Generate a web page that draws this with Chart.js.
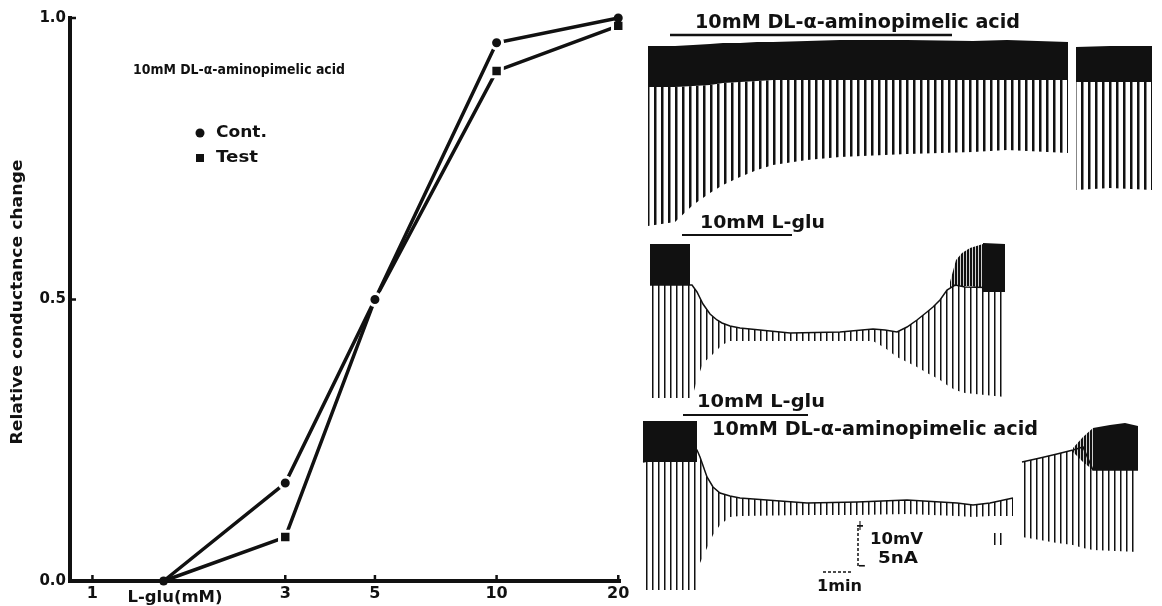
<!DOCTYPE html>
<html>
<head>
<meta charset="utf-8">
<script src="https://cdn.jsdelivr.net/npm/chart.js@4.4.1/dist/chart.umd.min.js"></script>
<style>
  body { margin: 0; background: #fff; }
  #wrap { position: relative; width: 1162px; height: 606px; }
  canvas { position: absolute; top: 0; }
  #doseChart { left: 0; }
  #traceChart { left: 640px; }
</style>
</head>
<body>
<div id="wrap">
  <canvas id="doseChart" width="640" height="606"></canvas>
  <canvas id="traceChart" width="522" height="606"></canvas>
</div>
<script>
// ---- dose-response curve (left) ----
const concentrations = [1.5, 3, 5, 10, 20];          // L-glu, mM
const contValues = [0, 0.174, 0.5, 0.956, 1.0];
const testValues = [0, 0.078, 0.5, 0.906, 0.986];
const xTickValues = [1, 3, 5, 10, 20];
const xTickLabels = ['1', '3', '5', '10', '20'];
const yTickValues = [0, 0.5, 1.0];

// ---- recordings (right): time in s, potential in mV (offset per trace) ----
// trace 1: DL-alpha-aminopimelic acid alone
const t1Time = [16, 70, 106, 140, 166, 200, 234, 266, 334, 400, 534, 666, 734, 856];
const t1SpikeTop = [-11.5, -11.5, -11.25, -11, -10.75, -10.75, -10.5, -10.5, -10.25, -10, -10, -10.25, -10, -10.5];
const t1SpikeBase = [-21.75, -21.75, -21.5, -21.25, -20.75, -20.5, -20.25, -20, -20, -20, -20, -20, -20, -20];
const t1PulseTip = [-56.5, -55.5, -51.25, -48.25, -46.25, -44.25, -42.5, -41.25, -40, -39.25, -38.5, -38, -37.5, -38.25];
const t1bTime = [872, 940, 1024];
const t1bSpikeTop = [-11.75, -11.5, -11.5];
const t1bSpikeBase = [-20.5, -20.5, -20.5];
const t1bPulseTip = [-47.5, -47, -47.5];

// trace 2: L-glu alone
const t2BlockTime = [20, 100];
const t2BlockTop = [-61, -61];
const t2BlockBase = [-71.25, -71.25];
const t2Time = [20, 104, 114, 126, 140, 154, 164, 180, 200, 300, 400, 466, 490, 514, 534, 554, 574, 586, 600, 614, 630, 650, 730];
const t2Membrane = [-71.25, -71.25, -73, -76, -78.5, -80, -80.75, -81.5, -82, -83.25, -83, -82.25, -82.5, -83, -81.75, -80, -78, -76.75, -75, -72.5, -71.25, -71.75, -72];
const t2PulseTip = [-99.5, -99.5, -95, -90.75, -89.25, -87.5, -86.25, -85.25, -85.25, -85.25, -85.25, -85.25, -87, -89.25, -90.5, -91.75, -93.25, -94, -95, -96.25, -97.5, -98.25, -99.25];
const t2SpikeTime = [620, 632, 644, 660, 686];
const t2SpikeTop = [-70.5, -65, -63.25, -62, -61];
const t2SpikeBase = [-72, -71.5, -71.5, -71.5, -72];
const t2EndTime = [686, 730];
const t2EndTop = [-60.75, -61];
const t2EndBase = [-73, -73];

// trace 3: L-glu with DL-alpha-aminopimelic acid
const t3BlockTime = [6, 114];
const t3BlockTop = [-105.25, -105.25];
const t3BlockBase = [-115.5, -115.5];
const t3Time = [6, 114, 120, 134, 146, 160, 180, 200, 334, 434, 534, 634, 666, 700, 746];
const t3Membrane = [-115.5, -112.5, -114.25, -119.25, -121.75, -123.25, -124, -124.5, -125.75, -125.5, -125, -125.75, -126.25, -125.75, -124.5];
const t3PulseTip = [-147.5, -147.5, -140.75, -137, -133.75, -131.25, -129.25, -129, -128.75, -128.75, -128.5, -129, -129.25, -129, -129];
const t3StrayTime = [700, 726];
const t3StrayTop = [-133.25, -133.25];
const t3StrayBase = [-136.25, -136.25];
const t3bTime = [764, 800, 834, 866, 886, 906, 996];
const t3bMembrane = [-115.5, -114.5, -113.5, -112.5, -111.75, -117.5, -117.5];
const t3bPulseTip = [-134.25, -135, -135.75, -136.25, -137, -137.5, -138];
const t3bSpikeTime = [866, 886, 906];
const t3bSpikeTop = [-112, -109.25, -107];
const t3bSpikeBase = [-113, -115.5, -117.5];
const t3bEndTime = [906, 940, 970, 996];
const t3bEndTop = [-107, -106.25, -105.75, -106.5];
const t3bEndBase = [-117.5, -117.5, -117.5, -117.5];

// drug application bars [start, end] and level
const aminoBar1 = [60, 624], aminoBar1Level = -8.75;
const gluBar2 = [84, 304], gluBar2Level = -58.75;
const gluBar3 = [86, 336], gluBar3Level = -103.75;
// calibration: 10 mV and 1 min
const mvBarTime = 436, mvBar = [-132, -142];
const minBar = [366, 426], minBarLevel = -143;

const ink = '#111';
Chart.defaults.font.family = "'DejaVu Sans', sans-serif";
Chart.defaults.color = '#000';

function pts(xs, ys) {
    return xs.map((x, i) => ({ x: x, y: ys[i] }));
}

// draw text squeezed/stretched to a given width
function fitText(ctx, text, cx, cy, width, size, rotate) {
    ctx.save();
    ctx.font = 'bold ' + size + "px 'DejaVu Sans'";
    const w = ctx.measureText(text).width;
    ctx.translate(cx, cy);
    if (rotate) ctx.rotate(-Math.PI / 2);
    ctx.scale(width / w, 1);
    ctx.textAlign = 'center';
    ctx.textBaseline = 'middle';
    ctx.fillStyle = ink;
    ctx.fillText(text, 0, 0);
    ctx.restore();
}


const doseDecor = {
    id: 'doseDecor',
    afterDraw(chart) {
        const { ctx, chartArea, scales } = chart;
        ctx.save();
        ctx.strokeStyle = ink;
        ctx.lineWidth = 2.5;
        ctx.beginPath();
        xTickValues.forEach(v => {
            const px = scales.x.getPixelForValue(v);
            ctx.moveTo(px, chartArea.bottom);
            ctx.lineTo(px, chartArea.bottom - 6);
        });
        yTickValues.slice(1).forEach(v => {
            const py = scales.y.getPixelForValue(v);
            ctx.moveTo(chartArea.left, py);
            ctx.lineTo(chartArea.left + 6, py);
        });
        ctx.stroke();

        // legend
        ctx.fillStyle = ink;
        ctx.beginPath();
        ctx.arc(200, 133, 4.5, 0, Math.PI * 2);
        ctx.fill();
        ctx.fillRect(196, 154, 8, 8);
        ctx.restore();

        fitText(ctx, 'Cont.', 241.5, 133, 51, 16);
        fitText(ctx, 'Test', 237, 158, 42, 16);
        fitText(ctx, '10mM DL-\u03b1-aminopimelic acid', 239, 70, 212, 14);
        fitText(ctx, 'L-glu(mM)', scales.x.getPixelForValue(1.6), 598, 95, 16);
        fitText(ctx, 'Relative conductance change', 18, 302, 285, 15, true);
    }
};

// white ring round inner markers leaves the small gap seen between line and marker
const lastIdx = concentrations.length - 1;

new Chart(document.getElementById('doseChart'), {
    type: 'line',
    data: {
        datasets: [
            {
                label: 'Cont.',
                data: pts(concentrations, contValues),
                borderColor: ink,
                backgroundColor: ink,
                borderWidth: 3.5,
                pointStyle: 'circle',
                pointRadius: c => (c.dataIndex === 0 || c.dataIndex === lastIdx) ? 4.5 : 6,
                pointBorderWidth: c => (c.dataIndex === 0 || c.dataIndex === lastIdx) ? 0 : 3,
                pointBorderColor: '#fff',
                pointBackgroundColor: ink,
                clip: false
            },
            {
                label: 'Test',
                data: pts(concentrations, testValues),
                borderColor: ink,
                backgroundColor: ink,
                borderWidth: 3.5,
                pointStyle: 'rect',
                pointRadius: c => c.dataIndex === 0 ? 4.5 : 8.1,
                pointBorderWidth: c => c.dataIndex === 0 ? 0 : 3,
                pointBorderColor: '#fff',
                pointBackgroundColor: ink,
                clip: false
            }
        ]
    },
    options: {
        responsive: false,
        animation: false,
        layout: { padding: { top: 18, right: 20, left: 0, bottom: 0 } },
        plugins: { legend: { display: false }, tooltip: { enabled: false } },
        scales: {
            x: {
                type: 'logarithmic',
                min: 0.88,
                max: 20.2,
                afterBuildTicks: s => { s.ticks = xTickValues.map(v => ({ value: v })); },
                afterFit: s => { s.height = 25; },
                grid: { display: false, drawTicks: false },
                border: { display: true, width: 4, color: ink },
                ticks: {
                    autoSkip: false,
                    maxRotation: 0,
                    padding: 3,
                    font: { size: 16, weight: 'bold' },
                    color: ink,
                    callback: v => xTickLabels[xTickValues.indexOf(v)]
                }
            },
            y: {
                min: 0,
                max: 1,
                afterBuildTicks: s => { s.ticks = yTickValues.map(v => ({ value: v })); },
                afterFit: s => { s.width = 70; },
                grid: { display: false, drawTicks: false },
                border: { display: true, width: 4, color: ink },
                ticks: {
                    padding: 4,
                    font: { size: 15, weight: 'bold' },
                    color: ink,
                    callback: v => v.toFixed(1)
                }
            }
        }
    },
    plugins: [doseDecor]
});


// ---- recordings ----
const traceCanvas = document.getElementById('traceChart');
const traceCtx = traceCanvas.getContext('2d');

function stripes(period, width) {
    const c = document.createElement('canvas');
    c.width = period;
    c.height = 2;
    const g = c.getContext('2d');
    g.fillStyle = ink;
    g.fillRect(0, 0, width, 2);
    return traceCtx.createPattern(c, 'repeat');
}

const wideComb = stripes(7, 2.5);
const fineComb = stripes(6, 1.5);
const spikeComb = stripes(3, 2.2);

// two boundaries, the second filled up to the first
function band(xs, upper, lower, fillStyle, order, edge) {
    return [
        { data: pts(xs, upper), borderColor: ink, borderWidth: edge || 0, pointRadius: 0, fill: false, order: order },
        { data: pts(xs, lower), borderWidth: 0, pointRadius: 0, fill: '-1', backgroundColor: fillStyle, order: order }
    ];
}

function hLine(range, level, width, dash) {
    return {
        data: pts(range, [level, level]),
        borderColor: ink, borderWidth: width, borderDash: dash || [],
        pointRadius: 0, fill: false, order: 1
    };
}

const traceSets = [].concat(
    band(t1Time, t1SpikeBase, t1PulseTip, wideComb, 3),
    band(t1Time, t1SpikeTop, t1SpikeBase, ink, 2),
    band(t1bTime, t1bSpikeBase, t1bPulseTip, wideComb, 3),
    band(t1bTime, t1bSpikeTop, t1bSpikeBase, ink, 2),

    band(t2Time, t2Membrane, t2PulseTip, fineComb, 3, 1.5),
    band(t2BlockTime, t2BlockTop, t2BlockBase, ink, 2),
    band(t2SpikeTime, t2SpikeTop, t2SpikeBase, spikeComb, 2),
    band(t2EndTime, t2EndTop, t2EndBase, ink, 2),

    band(t3Time, t3Membrane, t3PulseTip, fineComb, 3, 1.5),
    band(t3StrayTime, t3StrayTop, t3StrayBase, fineComb, 3),
    band(t3BlockTime, t3BlockTop, t3BlockBase, ink, 2),
    band(t3bTime, t3bMembrane, t3bPulseTip, fineComb, 3, 1.5),
    band(t3bSpikeTime, t3bSpikeTop, t3bSpikeBase, spikeComb, 2),
    band(t3bEndTime, t3bEndTop, t3bEndBase, ink, 2),

    [
        hLine(aminoBar1, aminoBar1Level, 2.5),
        hLine(gluBar2, gluBar2Level, 2),
        hLine(gluBar3, gluBar3Level, 2),
        hLine(minBar, minBarLevel, 1.5, [3, 2]),
        {
            data: pts([mvBarTime, mvBarTime], mvBar),
            borderColor: ink, borderWidth: 1.5, borderDash: [3, 2],
            pointRadius: 0, fill: false, order: 1
        }
    ]
);

const traceLabels = [
    { text: '10mM DL-\u03b1-aminopimelic acid', t: 435, v: -5.75, w: 325, size: 19 },
    { text: '10mM L-glu', t: 245, v: -56, w: 125, size: 17 },
    { text: '10mM L-glu', t: 242, v: -100.75, w: 128, size: 17 },
    { text: '10mM DL-\u03b1-aminopimelic acid', t: 470, v: -107.5, w: 326, size: 19 },
    { text: '+', t: 440, v: -131.5, w: 8, size: 14 },
    { text: '10mV', t: 513, v: -135, w: 53, size: 16 },
    { text: '5nA', t: 516, v: -139.75, w: 40, size: 16 },
    { text: '\u2212', t: 444, v: -141.5, w: 8, size: 14 },
    { text: '1min', t: 399, v: -146.75, w: 45, size: 15 }
];

const traceText = {
    id: 'traceText',
    afterDatasetsDraw(chart) {
        const { ctx, scales } = chart;
        traceLabels.forEach(l => {
            fitText(ctx, l.text, scales.x.getPixelForValue(l.t), scales.y.getPixelForValue(l.v), l.w, l.size);
        });
    }
};

new Chart(traceCanvas, {
    type: 'line',
    data: { datasets: traceSets },
    options: {
        responsive: false,
        animation: false,
        layout: { padding: 0 },
        plugins: { legend: { display: false }, tooltip: { enabled: false } },
        scales: {
            x: { type: 'linear', display: false, min: 0, max: 1044 },
            y: { type: 'linear', display: false, min: -151.5, max: 0 }
        }
    },
    plugins: [traceText]
});
</script>
</body>
</html>
